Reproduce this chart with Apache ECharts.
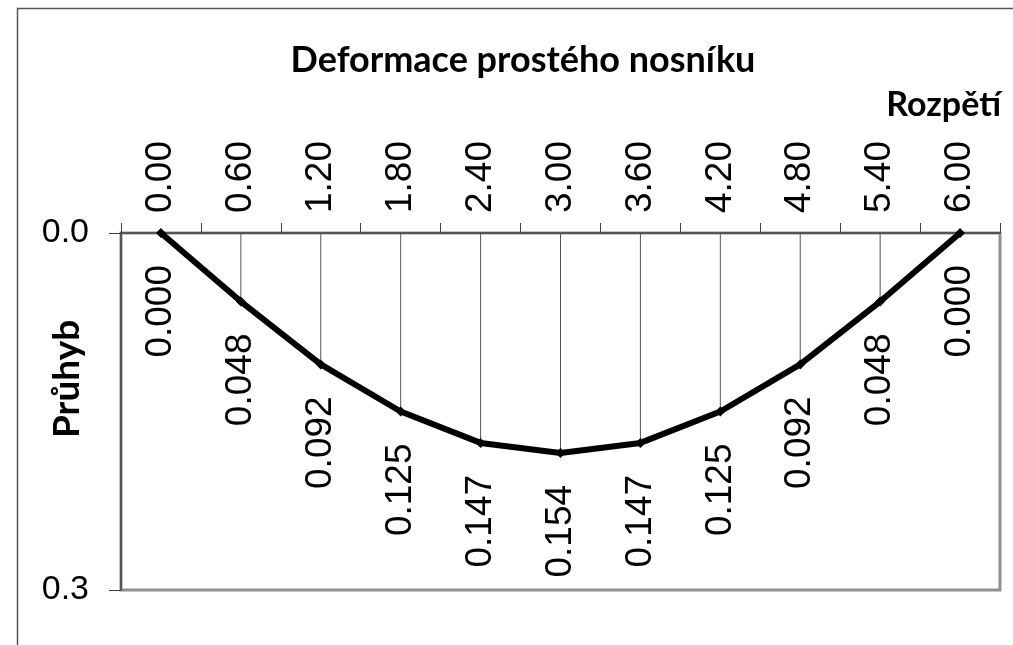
<!DOCTYPE html>
<html>
<head>
<meta charset="utf-8">
<script src="https://cdn.jsdelivr.net/npm/echarts@6/dist/echarts.min.js"></script>
<style>html,body{margin:0;padding:0;background:#fff;}#c{width:1013px;height:645px;}</style>
</head>
<body>
<div id="c"></div>
<script>
const categories = ["0.00","0.60","1.20","1.80","2.40","3.00","3.60","4.20","4.80","5.40","6.00"];
const deflection = [0.000, 0.048, 0.092, 0.125, 0.147, 0.154, 0.147, 0.125, 0.092, 0.048, 0.000];
const yTickLabels = ["0.0", "0.3"];
const titleText = "Deformace prostého nosníku";
const xName = "Rozpětí";
const yName = "Průhyb";

const chart = echarts.init(document.getElementById('c'), null, {renderer: 'canvas'});
const numFont = "'Liberation Sans', Arial, sans-serif";
const boldFont = "Lato, 'Open Sans', sans-serif";
chart.setOption({
  animation: false,
  backgroundColor: '#fff',
  grid: {left: 121, right: 13, top: 233, bottom: 55, show: true, borderColor: '#909090', borderWidth: 3, backgroundColor: 'transparent'},
  graphic: [
    {type: 'rect', shape: {x: 17.5, y: 8.5, width: 1100, height: 700}, style: {fill: 'none', stroke: '#555', lineWidth: 1.5}, z: 0, silent: true},
    {type: 'text', x: 523, y: 42, style: {text: titleText, fontSize: 36, fontWeight: 'bold', fontFamily: boldFont, fill: '#000', align: 'center', verticalAlign: 'top'}, silent: true},
    {type: 'text', x: 1001, y: 88, style: {text: xName, fontSize: 34, fontWeight: 'bold', fontFamily: boldFont, fill: '#000', align: 'right', verticalAlign: 'top'}, silent: true},
    {type: 'text', x: 49, y: 438, rotation: Math.PI / 2, style: {text: yName, fontSize: 37, fontWeight: 'bold', fontFamily: boldFont, fill: '#000', align: 'left', verticalAlign: 'top'}, silent: true}
  ],
  xAxis: {
    type: 'category', position: 'top', data: categories, boundaryGap: true,
    axisLine: {show: true, lineStyle: {color: '#404040', width: 1.5}},
    axisTick: {show: true, inside: false, length: 10, alignWithLabel: false, lineStyle: {color: '#404040', width: 1}},
    axisLabel: {rotate: 90, margin: 20, interval: 0, color: '#000', fontFamily: numFont, fontSize: 37},
    splitLine: {show: false}
  },
  yAxis: {
    type: 'value', inverse: true, min: 0, max: 0.25, interval: 0.25,
    axisLine: {show: true, lineStyle: {color: '#404040', width: 1.5}},
    axisTick: {show: true, inside: false, length: 12, lineStyle: {color: '#404040', width: 1}},
    axisLabel: {margin: 32, color: '#000', fontFamily: numFont, fontSize: 34, formatter: (v, i) => yTickLabels[i]},
    splitLine: {show: false}
  },
  series: [
    {type: 'bar', data: deflection, barWidth: 1, itemStyle: {color: '#555'}, silent: true, z: 1},
    {type: 'line', data: deflection, z: 3,
      lineStyle: {color: '#000', width: 6},
      symbol: 'diamond', symbolSize: 10, itemStyle: {color: '#000'},
      label: {show: true, position: 'bottom', distance: 27, rotate: 90, align: 'right', verticalAlign: 'middle',
        color: '#000', fontFamily: numFont, fontSize: 37, formatter: p => p.value.toFixed(3)}
    }
  ]
});
</script>
</body>
</html>
